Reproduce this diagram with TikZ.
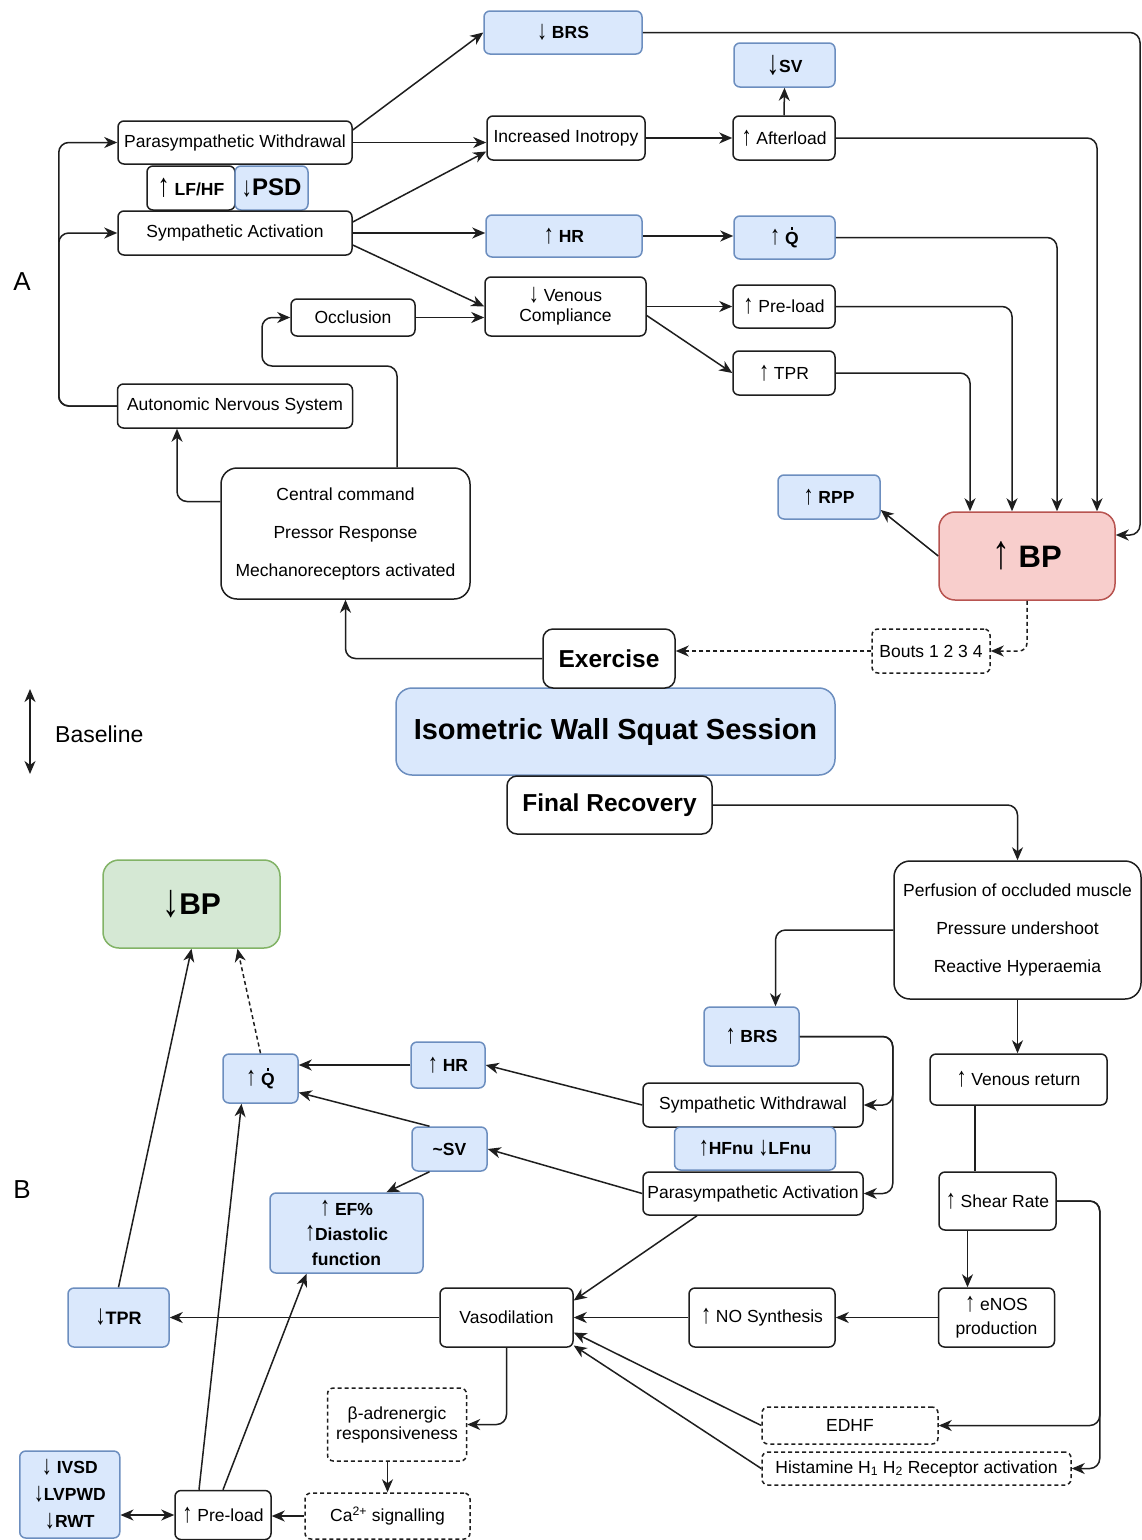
\documentclass[tikz,border=0pt]{standalone}
\usepackage{fontspec}
\setmainfont{Liberation Sans}
\usepackage{graphicx}
\usetikzlibrary{arrows.meta}

\definecolor{blueF}{HTML}{DAE8FC}
\definecolor{blueD}{HTML}{6C8EBF}
\definecolor{redF}{HTML}{F8CECC}
\definecolor{redD}{HTML}{B85450}
\definecolor{greenF}{HTML}{D5E8D4}
\definecolor{greenD}{HTML}{82B366}
\definecolor{ink}{HTML}{1E1E1E}

\newcommand\fs[2]{\fontsize{#1pt}{#2pt}\selectfont}
\newcommand\upa{\raisebox{-0.05em}{\scalebox{1.15}[1.55]{↑}}}
\newcommand\dna{\raisebox{-0.05em}{\scalebox{1.15}[1.55]{↓}}}
% Q with a dot above (cardiac output)
\newcommand\qdot{\makebox[0pt][l]{\hspace{0.32em}\raisebox{0.8em}{\rule{0.15em}{0.15em}}}Q}

\tikzset{
  base/.style={draw=ink, line width=1.5pt, rounded corners=6pt, align=center,
    inner sep=2pt, text=black, font={\fs{17.5}{21}}},
  plainbox/.style={base, fill=white},
  boldbox/.style={base, fill=white, font={\fs{17.5}{21}\bfseries}},
  bluebox/.style={base, fill=blueF, draw=blueD, font={\fs{17.5}{21}\bfseries}},
  dashbox/.style={base, fill=white, dashed, dash pattern=on 4pt off 3pt},
  bigcorner/.style={rounded corners=16pt},
  tip/.tip={Stealth[length=13pt,width=11pt,inset=4pt]},
  conn/.style={draw=ink, line width=1.5pt, -tip},
  dconn/.style={conn, dash pattern=on 4pt off 3pt},
  biconn/.style={draw=ink, line width=1.5pt, tip-tip},
  plainline/.style={draw=ink, line width=1.5pt},
  label/.style={text=black, inner sep=0pt}
}

\begin{document}
\begin{tikzpicture}[x=1pt,y=-1pt]
\useasboundingbox (0,0) rectangle (1142,1540);
\fill[white] (0,0) rectangle (1142,1540);

% ---------------- Part A: during exercise ----------------
\node[bluebox, minimum width=158pt, minimum height=43pt] (brsA) at (563,32.5) {\dna\ BRS};
\node[bluebox, minimum width=101pt, minimum height=44pt] (svA) at (784.5,65) {{\fs{22}{26}\dna}SV};
\node[plainbox, minimum width=234pt, minimum height=43pt] (pw) at (235,142.5) {Parasympathetic Withdrawal};
\node[plainbox, minimum width=158pt, minimum height=44pt] (inot) at (566,138) {Increased Inotropy};
\node[plainbox, minimum width=102pt, minimum height=44pt] (after) at (784,138) {\upa\ Afterload};
\node[boldbox, minimum width=88pt, minimum height=44pt] (lfhf) at (191,188) {{\fs{21}{26}\upa} LF/HF};
\node[bluebox, minimum width=73pt, minimum height=44pt, font={\fs{24}{28}\bfseries}] (psd) at (271.5,188) {{\fs{18}{22}\dna}PSD};
\node[plainbox, minimum width=234pt, minimum height=44pt] (sa) at (235,233) {Sympathetic Activation};
\node[bluebox, minimum width=156pt, minimum height=42pt] (hrA) at (564,236) {\upa\ HR};
\node[bluebox, minimum width=101pt, minimum height=43pt] (qA) at (784.5,237.5) {\upa\ \qdot};
\node[plainbox, minimum width=161pt, minimum height=59pt, font={\fs{17.5}{20}}] (vc) at (565.5,306.5) {\dna\ Venous\\Compliance};
\node[plainbox, minimum width=124pt, minimum height=37pt] (occ) at (353,317.5) {Occlusion};
\node[plainbox, minimum width=102pt, minimum height=43pt] (preA) at (784,306.5) {\upa\ Pre-load};
\node[plainbox, minimum width=102pt, minimum height=44pt] (tprA) at (784,373) {\upa\ TPR};
\node[plainbox, minimum width=235pt, minimum height=44pt] (ans) at (235,406) {Autonomic Nervous System};
\node[plainbox, bigcorner, minimum width=249pt, minimum height=131pt] (cc) at (345.5,533.5)
  {Central command\\[17pt]Pressor Response\\[17pt]Mechanoreceptors activated};
\node[bluebox, minimum width=102pt, minimum height=44pt] (rpp) at (829,497) {\upa\ RPP};
\node[base, bigcorner, fill=redF, draw=redD, minimum width=176pt, minimum height=88pt,
  font={\fs{31}{36}\bfseries}] (bpA) at (1027,556) {\upa\ BP};
\node[dashbox, minimum width=118pt, minimum height=44pt] (bouts) at (931,651) {Bouts 1 2 3 4};

% ---------------- Session ----------------
\node[bluebox, bigcorner, minimum width=439pt, minimum height=87pt, font={\fs{29}{34}\bfseries}] (iws) at (615.5,731.5) {Isometric Wall Squat Session};
\node[boldbox, rounded corners=10pt, minimum width=132pt, minimum height=59pt, font={\fs{24.5}{29}\bfseries}] (exer) at (609,658.5) {Exercise};
\node[boldbox, rounded corners=10pt, minimum width=205pt, minimum height=58pt, font={\fs{24.5}{29}\bfseries}] (fr) at (609.5,805) {Final Recovery};

\node[label, font={\fs{26}{30}}] (labA) at (22,282) {A};
\node[label, font={\fs{26}{30}}] (labB) at (22,1190) {B};
\node[label, anchor=west, font={\fs{23}{27}}] (baseT) at (55,734) {Baseline};
\coordinate (blT) at (30,689);
\coordinate (blB) at (30,774);
\draw[biconn] (blT) -- (blB);

% ---------------- Part B: recovery ----------------
\node[base, bigcorner, fill=greenF, draw=greenD, minimum width=177pt, minimum height=88pt,
  font={\fs{30}{35}\bfseries}] (bpB) at (191.5,904) {\dna BP};
\node[plainbox, bigcorner, minimum width=247pt, minimum height=138pt] (perf) at (1017.5,930)
  {Perfusion of occluded muscle\\[17pt]Pressure undershoot\\[17pt]Reactive Hyperaemia};
\node[bluebox, minimum width=95pt, minimum height=59pt] (brsB) at (751.5,1036.5) {\upa\ BRS};
\node[plainbox, minimum width=177pt, minimum height=51pt] (vr) at (1018.5,1079.5) {\upa\ Venous return};
\node[plainbox, minimum width=220pt, minimum height=44pt] (sw) at (753,1105) {Sympathetic Withdrawal};
\node[bluebox, minimum width=161pt, minimum height=43pt] (hflf) at (755,1148.5) {\upa HFnu \dna LFnu};
\node[plainbox, minimum width=220pt, minimum height=43pt] (pa) at (753,1193.5) {Parasympathetic Activation};
\node[plainbox, minimum width=117pt, minimum height=58pt] (shear) at (997.5,1201) {\upa\ Shear Rate};
\node[bluebox, minimum width=74pt, minimum height=46pt] (hrB) at (448,1065) {\upa\ HR};
\node[bluebox, minimum width=75pt, minimum height=49pt] (qB) at (260.5,1078.5) {\upa\ \qdot};
\node[bluebox, minimum width=75pt, minimum height=44pt] (svB) at (449.5,1149) {\textasciitilde SV};
\node[bluebox, minimum width=153pt, minimum height=80pt, font={\fs{17.5}{25}\bfseries}] (ef) at (346.5,1233)
  {\upa\ EF\%\\\upa Diastolic\\function};
\node[bluebox, minimum width=101pt, minimum height=59pt, font={\fs{18}{22}\bfseries}] (tprB) at (118.5,1317.5) {\dna TPR};
\node[plainbox, minimum width=133pt, minimum height=59pt] (vaso) at (506.5,1317.5) {Vasodilation};
\node[plainbox, minimum width=146pt, minimum height=59pt] (no) at (762,1317.5) {\upa\ NO Synthesis};
\node[plainbox, minimum width=116pt, minimum height=59pt, font={\fs{17.5}{24}}] (enos) at (996.5,1317.5) {\upa\ eNOS\\production};
\node[dashbox, minimum width=176pt, minimum height=37pt] (edhf) at (850,1425.5) {EDHF};
\node[dashbox, minimum width=309pt, minimum height=33pt] (hist) at (916.5,1468.5)
  {Histamine H\textsubscript{1} H\textsubscript{2} Receptor activation};
\node[dashbox, minimum width=139pt, minimum height=73pt, font={\fs{17.5}{20}}] (beta) at (397,1424.5) {β-adrenergic\\responsiveness};
\node[dashbox, minimum width=165pt, minimum height=46pt] (ca) at (387.5,1516) {Ca\textsuperscript{2+} signalling};
\node[plainbox, minimum width=96pt, minimum height=49pt] (preB) at (223,1515) {\upa\ Pre-load};
\node[bluebox, minimum width=100pt, minimum height=87pt, font={\fs{17.5}{27}\bfseries}] (ivsd) at (69.75,1494.5)
  {\dna\ IVSD\\\dna LVPWD\\\dna RWT};

% ---------------- Connectors, part A ----------------
\draw[conn] ([yshift=12.5pt]pw.east) -- (brsA.west);
\draw[conn] (pw.east) -- (pw.east -| inot.west);
\draw[conn] ([yshift=11pt]sa.east) -- ([yshift=-13.5pt]inot.west);
\draw[conn] (sa.east) -- (sa.east -| hrA.west);
\draw[conn] ([yshift=-12pt]sa.east) -- (vc.west);
\draw[conn] (occ.east) -- (occ.east -| vc.west);
\draw[conn] (inot.east) -- (after.west);
\draw[conn] (after.north) -- (svA.south);
\draw[conn] (hrA.east) -- (hrA.east -| qA.west);
\draw[conn] (vc.east) -- (vc.east -| preA.west);
\draw[conn] ([yshift=-9pt]vc.east) -- (tprA.west);
\coordinate (rA) at (1140,32.5);
\draw[conn, rounded corners=10pt] (brsA.east) -- (rA) |- ([yshift=21pt]bpA.east);
\draw[conn, rounded corners=10pt] (after.east) -| ([xshift=70pt]bpA.north);
\draw[conn, rounded corners=10pt] (qA.east) -| ([xshift=30pt]bpA.north);
\draw[conn, rounded corners=10pt] (preA.east) -| ([xshift=-15pt]bpA.north);
\draw[conn, rounded corners=10pt] (tprA.east) -| ([xshift=-57pt]bpA.north);
\draw[conn] (bpA.west) -- ([yshift=-13pt]rpp.east);
\draw[dconn, rounded corners=8pt] (bpA.south) |- (bouts.east);
\draw[dconn] (bouts.west) -- (bouts.west -| exer.east);
\draw[conn, rounded corners=10pt] (exer.west) -| (cc.south);
\draw[conn, rounded corners=10pt] ([yshift=32pt]cc.west) -| ([xshift=-58pt]ans.south);
\coordinate (ccUp) at (262,366);
\draw[conn, rounded corners=10pt] ([xshift=51.5pt]cc.north) |- (ccUp) |- (occ.west);
\coordinate (ansL) at ([xshift=-58pt]ans.west);
\draw[conn, rounded corners=10pt] (ans.west) -- (ansL) |- (pw.west);
\draw[conn, rounded corners=10pt] (ans.west) -- (ansL) |- (sa.west);

% ---------------- Connectors, part B ----------------
\draw[conn, rounded corners=10pt] (fr.east) -| (perf.north);
\draw[conn, rounded corners=10pt] (perf.west) -| ([xshift=24pt]brsB.north);
\draw[conn] (perf.south) -- (perf.south |- vr.north);
\draw[plainline] ([xshift=-43.5pt]vr.south) -- ([xshift=-43.5pt]vr.south |- shear.north);
\draw[conn] ([xshift=-30pt]shear.south) -- ([xshift=-30pt]shear.south |- enos.north);
\draw[conn] (enos.west) -- (no.east);
\draw[conn] (no.west) -- (vaso.east);
\coordinate (srR) at ([xshift=43pt]shear.east);
\draw[conn, rounded corners=10pt] (shear.east) -- (srR) |- (edhf.east);
\draw[conn, rounded corners=10pt] (shear.east) -- (srR) |- (hist.east);
\draw[conn] (edhf.west) -- ([yshift=-15pt]vaso.east);
\draw[conn] (hist.west) -- ([yshift=-28pt]vaso.east);
\draw[conn] ([xshift=-56pt]pa.south) -- ([yshift=17pt]vaso.east);
\draw[conn] (vaso.west) -- (tprB.east);
\draw[conn, rounded corners=10pt] (vaso.south) |- (beta.east);
\draw[conn] (ca.north |- beta.south) -- (ca.north);
\draw[conn] (ca.west) -- (ca.west -| preB.east);
\draw[biconn] (preB.west -| ivsd.east) -- (preB.west);
\draw[conn] ([xshift=-24pt]preB.north) -- ([xshift=-19pt]qB.south);
\draw[conn] (preB.north) -- ([xshift=-40pt]ef.south);
\draw[conn] (tprB.north) -- (bpB.south);
\draw[dconn] (qB.north) -- ([xshift=46pt]bpB.south);
\draw[conn] (hrB.west) -- (hrB.west -| qB.east);
\draw[conn] ([xshift=-20pt]svB.north) -- ([yshift=-14pt]qB.east);
\draw[conn] (sw.west) -- (hrB.east);
\draw[conn] (pa.west) -- (svB.east);
\draw[conn] ([xshift=-20pt]svB.south) -- ([xshift=40pt]ef.north);
\coordinate (brR) at ([xshift=93pt]brsB.east);
\draw[conn, rounded corners=10pt] (brsB.east) -- (brR) |- (sw.east);
\draw[conn, rounded corners=10pt] (brsB.east) -- (brR) |- (pa.east);
\end{tikzpicture}
\end{document}
